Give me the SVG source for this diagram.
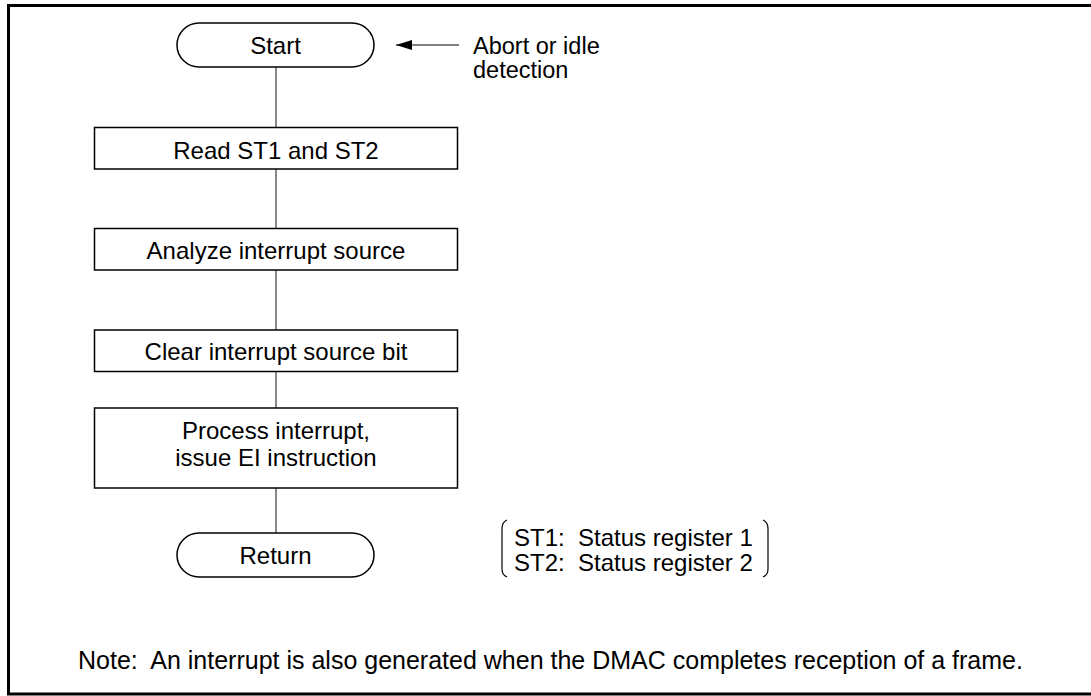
<svg xmlns="http://www.w3.org/2000/svg" width="1091" height="696" viewBox="0 0 1091 696">
<defs>
<style>
.box{fill:#fff;stroke:#000;stroke-width:1.5}
.t{font-family:"Liberation Sans",Arial,sans-serif;font-size:24px;fill:#000;white-space:pre}
.c{text-anchor:middle}
.conn{stroke:#555;stroke-width:1.4;fill:none}
.br{stroke:#000;stroke-width:1.2;fill:none}
</style>
<marker id="ah" markerWidth="16" markerHeight="10" refX="16" refY="5" orient="auto" markerUnits="userSpaceOnUse">
<path d="M0,0 L16,5 L0,10 Z" fill="#000"/>
</marker>
</defs>
<rect width="1091" height="696" fill="#fff"/>
<rect x="8.5" y="5.5" width="1090" height="688.5" fill="none" stroke="#000" stroke-width="3"/>
<g id="connectors">
<line class="conn" x1="276" y1="67" x2="276" y2="127.5"/>
<line class="conn" x1="276" y1="169" x2="276" y2="228.5"/>
<line class="conn" x1="276" y1="270" x2="276" y2="330"/>
<line class="conn" x1="276" y1="371.5" x2="276" y2="408"/>
<line class="conn" x1="276" y1="488" x2="276" y2="533"/>
<line x1="459" y1="45" x2="396" y2="45" stroke="#000" stroke-width="1.2" marker-end="url(#ah)"/>
</g>
<g id="start">
<rect class="box" x="177" y="23" width="197" height="44" rx="22"/>
<text class="t c" x="275.5" y="54">Start</text>
</g>
<g id="read">
<rect class="box" x="94.5" y="127.5" width="363" height="41.5"/>
<text class="t c" x="276" y="159">Read ST1 and ST2</text>
</g>
<g id="analyze">
<rect class="box" x="94.5" y="228.5" width="363" height="41.5"/>
<text class="t c" x="276" y="259">Analyze interrupt source</text>
</g>
<g id="clear">
<rect class="box" x="94.5" y="330" width="363" height="41.5"/>
<text class="t c" x="276" y="360">Clear interrupt source bit</text>
</g>
<g id="process">
<rect class="box" x="94.5" y="408" width="363" height="80"/>
<text class="t c" x="276" y="439">Process interrupt,</text>
<text class="t c" x="276" y="466">issue EI instruction</text>
</g>
<g id="return">
<rect class="box" x="177" y="533" width="197" height="44" rx="22"/>
<text class="t c" x="275.5" y="564">Return</text>
</g>
<g id="abort-note">
<text class="t" x="473" y="54" style="font-size:23.5px">Abort or idle</text>
<text class="t" x="473" y="78" style="font-size:23.5px">detection</text>
</g>
<g id="legend">
<path class="br" d="M507,520 Q502,522 502,529 L502,569 Q502,575 507,577"/>
<path class="br" d="M763,520 Q768,522 768,529 L768,569 Q768,575 763,577"/>
<text class="t" x="514" y="546">ST1:  Status register 1</text>
<text class="t" x="514" y="571">ST2:  Status register 2</text>
</g>
<text class="t" x="78" y="669" style="font-size:25px">Note:  An interrupt is also generated when the DMAC completes reception of a frame.</text>
</svg>
